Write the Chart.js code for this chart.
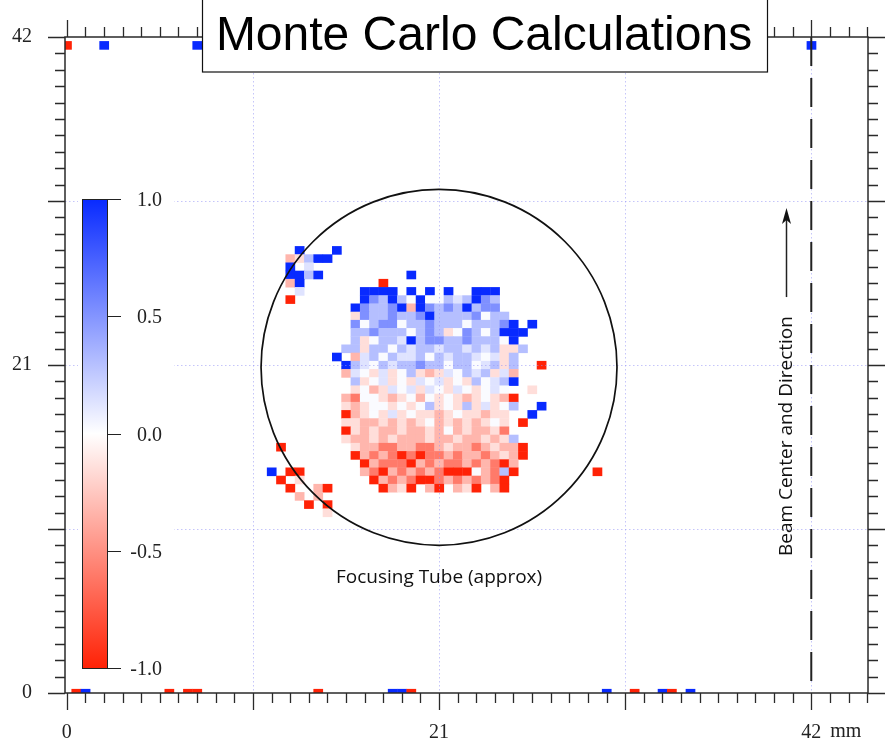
<!DOCTYPE html>
<html>
<head>
<meta charset="utf-8">
<title>Monte Carlo Calculations</title>
<script src="https://cdn.jsdelivr.net/npm/chart.js@4.4.0/dist/chart.umd.min.js"></script>
<style>
  html, body { margin: 0; padding: 0; background: #ffffff; }
  #wrap { width: 885px; height: 743px; }
</style>
</head>
<body>
<div id="wrap"><canvas id="mcChart" width="885" height="743"></canvas></div>
<script>
// Size of one simulation cell (mm)
const cellSize = 0.525;

// Colour levels
const levelCodes = ['B', 'b', 'c', 'd', 'w', 'e', 'f', 'r', 'R'];
const levelValues = [1.0, 0.52, 0.3, 0.13, 0.02, -0.15, -0.33, -0.6, -1.0];

// Cells of the central spot: [row, first column, codes] ('.' = empty)
const blobRows = [
    [54, 25, 'B...B'],
    [53, 24, 'fecBB'],
    [52, 24, 'B.d'],
    [51, 24, 'BBcB.........B'],
    [50, 24, 'fB........R'],
    [49, 25, 'd......BBBB.B.B.B..BBB'],
    [48, 24, 'R.......BbcBcwBwwcdcBbc'],
    [47, 31, 'BbccbBfBbcbcBcbb'],
    [46, 31, 'ebccbccbBccccbwcc'],
    [45, 31, 'bwcbbwccbcccwcccbB.B'],
    [44, 31, 'ccbcccwcbcewbcwcBBB'],
    [43, 31, 'cewccdBcbbccbcccwB'],
    [42, 30, 'cceccwcdccdccdcdceec'],
    [41, 29, 'B.fdcwcddcwcdccdwdec'],
    [40, 30, 'Bcdwcdccbccwccwdcec..R'],
    [39, 30, 'fdwedewcefedwcdcedf'],
    [38, 31, 'cewdewedwdewecwdcB'],
    [37, 31, 'ewfedwdedwedwewdw..e'],
    [36, 30, 'frwwefewfwewefewefR'],
    [35, 30, 'efewwewewcewecedewc..B'],
    [34, 30, 'Rfewedeweefeweefee..B'],
    [33, 30, 'eeffefefewfefefewe.R'],
    [32, 30, 'Refeffeffefwfeffer'],
    [31, 30, 'effefefffeffeffefec'],
    [30, 23, 'R.......effrrffrrfeffrfeffR'],
    [29, 31, 'RfrfrRrRrrfrffrfefR'],
    [28, 32, 'RfrrrRfrfrrfrfrRf'],
    [27, 22, 'B.RR......frRfrfrfrRRRwfrcR........R'],
    [26, 23, 'R.e.......RfrfrRRrfrfrfrR'],
    [25, 24, 'R..fR.....RfeR.fR.feR.fR'],
    [24, 25, 'f.f'],
    [23, 26, 'R.R'],
    [22, 28, 'e']
];

// Lone cells along the top and bottom edges: [column, row, code]
const edgeCells = [
    [0, 79, 'R'], [4, 79, 'B'], [14, 79, 'B'], [80, 79, 'B'],
    [1, 0, 'R'], [2, 0, 'B'], [11, 0, 'R'], [13, 0, 'R'], [14, 0, 'R'],
    [27, 0, 'R'], [35, 0, 'B'], [36, 0, 'B'], [37, 0, 'R'], [58, 0, 'B'],
    [61, 0, 'R'], [64, 0, 'B'], [65, 0, 'R'], [67, 0, 'B']
];

const xTickLabels = [0, 21, 42];
const yTickLabels = [0, 21, 42];
const gridValues = [10.5, 21, 31.5];
const colorbarTicks = [1.0, 0.5, 0.0, -0.5, -1.0];

const blueEnd = [8, 42, 255];
const redEnd = [255, 34, 6];

function codeValue(c) {
    return levelValues[levelCodes.indexOf(c)];
}

function buildCells() {
    const cells = [];
    blobRows.forEach(([row, col0, codes]) => {
        [...codes].forEach((c, i) => {
            if (c === '.') return;
            cells.push({ x: (col0 + i) * cellSize, y: row * cellSize, v: codeValue(c) });
        });
    });
    edgeCells.forEach(([col, row, c]) => {
        cells.push({ x: col * cellSize, y: row * cellSize, v: codeValue(c) });
    });
    return cells;
}

function valueColor(v) {
    const end = v >= 0 ? blueEnd : redEnd;
    const t = Math.min(1, Math.abs(v));
    const c = end.map(e => Math.round(255 + (e - 255) * t));
    return 'rgb(' + c.join(',') + ')';
}

// Draws each cell as a rectangle through the chart scales
const heatmapPlugin = {
    id: 'heatmap',
    beforeDatasetsDraw(chart) {
        const { ctx, chartArea: a, scales: { x, y } } = chart;
        ctx.save();
        ctx.beginPath();
        ctx.rect(a.left, a.top, a.right - a.left, a.bottom - a.top);
        ctx.clip();
        chart.data.datasets[0].data.forEach(p => {
            const x0 = x.getPixelForValue(p.x - cellSize / 2);
            const x1 = x.getPixelForValue(p.x + cellSize / 2);
            const y0 = y.getPixelForValue(p.y + cellSize / 2);
            const y1 = y.getPixelForValue(p.y - cellSize / 2);
            ctx.fillStyle = valueColor(p.v);
            ctx.fillRect(x0, y0, x1 - x0 + 0.4, y1 - y0 + 0.4);
        });
        ctx.restore();
    }
};

// Grid, tube outline, colour bar, notes, frame and title
const overlayPlugin = {
    id: 'overlay',
    afterDatasetsDraw(chart) {
        const { ctx, chartArea: a, scales: { x, y } } = chart;
        const px = v => x.getPixelForValue(v);
        const py = v => y.getPixelForValue(v);
        ctx.save();

        // dotted grid
        ctx.strokeStyle = 'rgba(150, 150, 245, 0.55)';
        ctx.lineWidth = 1;
        ctx.setLineDash([1.5, 2.5]);
        gridValues.concat([42]).forEach(v => {
            ctx.beginPath();
            ctx.moveTo(Math.round(px(v)) + 0.5, a.top);
            ctx.lineTo(Math.round(px(v)) + 0.5, a.bottom);
            ctx.stroke();
        });
        gridValues.forEach(v => {
            ctx.beginPath();
            ctx.moveTo(a.left, Math.round(py(v)) + 0.5);
            ctx.lineTo(a.right, Math.round(py(v)) + 0.5);
            ctx.stroke();
        });
        ctx.setLineDash([]);

        // focusing tube (drawn round on screen)
        const r = px(21 + 10.04) - px(21);
        ctx.strokeStyle = '#111';
        ctx.lineWidth = 1.7;
        ctx.beginPath();
        ctx.arc(px(21), py(20.85), r, 0, Math.PI * 2);
        ctx.stroke();

        ctx.fillStyle = '#111';
        ctx.font = '19px "Open Sans"';
        ctx.textAlign = 'center';
        ctx.textBaseline = 'middle';
        ctx.fillText('Focusing Tube (approx)', px(21), py(7.4));

        // colour bar
        ctx.fillStyle = '#fff';
        ctx.fillRect(78, 188, 96, 492);
        const cbTop = 199, cbBot = 668, cbL = 82, cbR = 107;
        const grad = ctx.createLinearGradient(0, cbTop, 0, cbBot);
        grad.addColorStop(0, valueColor(1));
        grad.addColorStop(0.5, valueColor(0));
        grad.addColorStop(1, valueColor(-1));
        ctx.fillStyle = grad;
        ctx.fillRect(cbL, cbTop, cbR - cbL, cbBot - cbTop);
        ctx.strokeStyle = '#222';
        ctx.lineWidth = 1;
        ctx.strokeRect(cbL + 0.5, cbTop + 0.5, cbR - cbL, cbBot - cbTop);
        ctx.font = '20px "Liberation Serif"';
        ctx.textAlign = 'right';
        ctx.fillStyle = '#222';
        colorbarTicks.forEach(v => {
            const ty = Math.round(cbTop + (1 - v) / 2 * (cbBot - cbTop)) + 0.5;
            ctx.beginPath();
            ctx.moveTo(cbR, ty);
            ctx.lineTo(cbR + 14, ty);
            ctx.stroke();
            ctx.fillText(v.toFixed(1), 162, ty + 1);
        });

        // beam centre line and arrow
        ctx.strokeStyle = '#222';
        ctx.lineWidth = 2;
        ctx.setLineDash([29, 12]);
        ctx.beginPath();
        ctx.moveTo(px(42), a.top);
        ctx.lineTo(px(42), a.bottom);
        ctx.stroke();
        ctx.setLineDash([]);

        const ax = Math.round(px(40.56)) + 0.5;
        ctx.lineWidth = 1.5;
        ctx.beginPath();
        ctx.moveTo(ax, py(25.35));
        ctx.lineTo(ax, py(30.6));
        ctx.stroke();
        ctx.fillStyle = '#111';
        ctx.beginPath();
        ctx.moveTo(ax, py(31.05));
        ctx.lineTo(ax - 4.5, py(31.05) + 16);
        ctx.lineTo(ax, py(31.05) + 12);
        ctx.lineTo(ax + 4.5, py(31.05) + 16);
        ctx.closePath();
        ctx.fill();

        ctx.save();
        ctx.translate(px(40.6), py(16.45));
        ctx.rotate(-Math.PI / 2);
        ctx.font = '19px "Open Sans"';
        ctx.textAlign = 'center';
        ctx.textBaseline = 'middle';
        ctx.fillText('Beam Center and Direction', 0, 0);
        ctx.restore();

        // frame
        ctx.strokeStyle = '#2a2a2a';
        ctx.lineWidth = 1.5;
        ctx.strokeRect(a.left, a.top, a.right - a.left, a.bottom - a.top);

        // tick marks on all four sides
        ctx.lineWidth = 1.3;
        for (let i = 0; i * 1.05 <= x.max + 1e-6; i++) {
            const tx = Math.round(px(i * 1.05)) + 0.5;
            const len = i % 10 === 0 ? 17 : 10;
            ctx.beginPath();
            ctx.moveTo(tx, a.bottom);
            ctx.lineTo(tx, a.bottom + len);
            ctx.moveTo(tx, a.top);
            ctx.lineTo(tx, a.top - len);
            ctx.stroke();
        }
        for (let i = 0; i * 1.05 <= y.max + 1e-6; i++) {
            const ty = Math.round(py(i * 1.05)) + 0.5;
            const len = i % 10 === 0 ? 17 : 10;
            ctx.beginPath();
            ctx.moveTo(a.left, ty);
            ctx.lineTo(a.left - len, ty);
            ctx.moveTo(a.right, ty);
            ctx.lineTo(a.right + len, ty);
            ctx.stroke();
        }

        // unit after the last x label
        ctx.font = '20px "Liberation Serif"';
        ctx.fillStyle = '#222';
        ctx.textAlign = 'left';
        ctx.textBaseline = 'middle';
        ctx.fillText('mm', px(42) + 19, 732);

        // title box
        ctx.fillStyle = '#fff';
        ctx.fillRect(202, -2, 566, 74);
        ctx.strokeStyle = '#111';
        ctx.lineWidth = 1.2;
        ctx.strokeRect(202.5, -2, 565, 74);
        ctx.fillStyle = '#000';
        ctx.font = '48px "Liberation Sans"';
        ctx.textAlign = 'center';
        ctx.textBaseline = 'alphabetic';
        ctx.fillText('Monte Carlo Calculations', 484, 50);

        ctx.restore();
    }
};

const tickFont = { family: 'Liberation Serif', size: 20 };

const chart = new Chart(document.getElementById('mcChart'), {
    type: 'scatter',
    data: {
        datasets: [{
            label: 'Monte Carlo',
            data: buildCells(),
            pointRadius: 0,
            pointHoverRadius: 0
        }]
    },
    options: {
        responsive: false,
        animation: false,
        events: [],
        layout: { padding: { top: 34, right: 17, left: 0, bottom: 0 } },
        plugins: {
            legend: { display: false },
            tooltip: { enabled: false }
        },
        scales: {
            x: {
                type: 'linear',
                min: -0.1,
                max: 45.2,
                afterBuildTicks: s => { s.ticks = xTickLabels.map(v => ({ value: v })); },
                afterFit: s => { s.height = 50; },
                grid: { display: false },
                border: { display: false },
                ticks: { font: tickFont, color: '#222', padding: 20, autoSkip: false, maxRotation: 0 }
            },
            y: {
                type: 'linear',
                min: 0,
                max: 42,
                afterBuildTicks: s => { s.ticks = yTickLabels.map(v => ({ value: v })); },
                afterFit: s => { s.width = 65; },
                grid: { display: false },
                border: { display: false },
                ticks: { font: tickFont, color: '#222', padding: 25, autoSkip: false }
            }
        }
    },
    plugins: [heatmapPlugin, overlayPlugin]
});
</script>
</body>
</html>
